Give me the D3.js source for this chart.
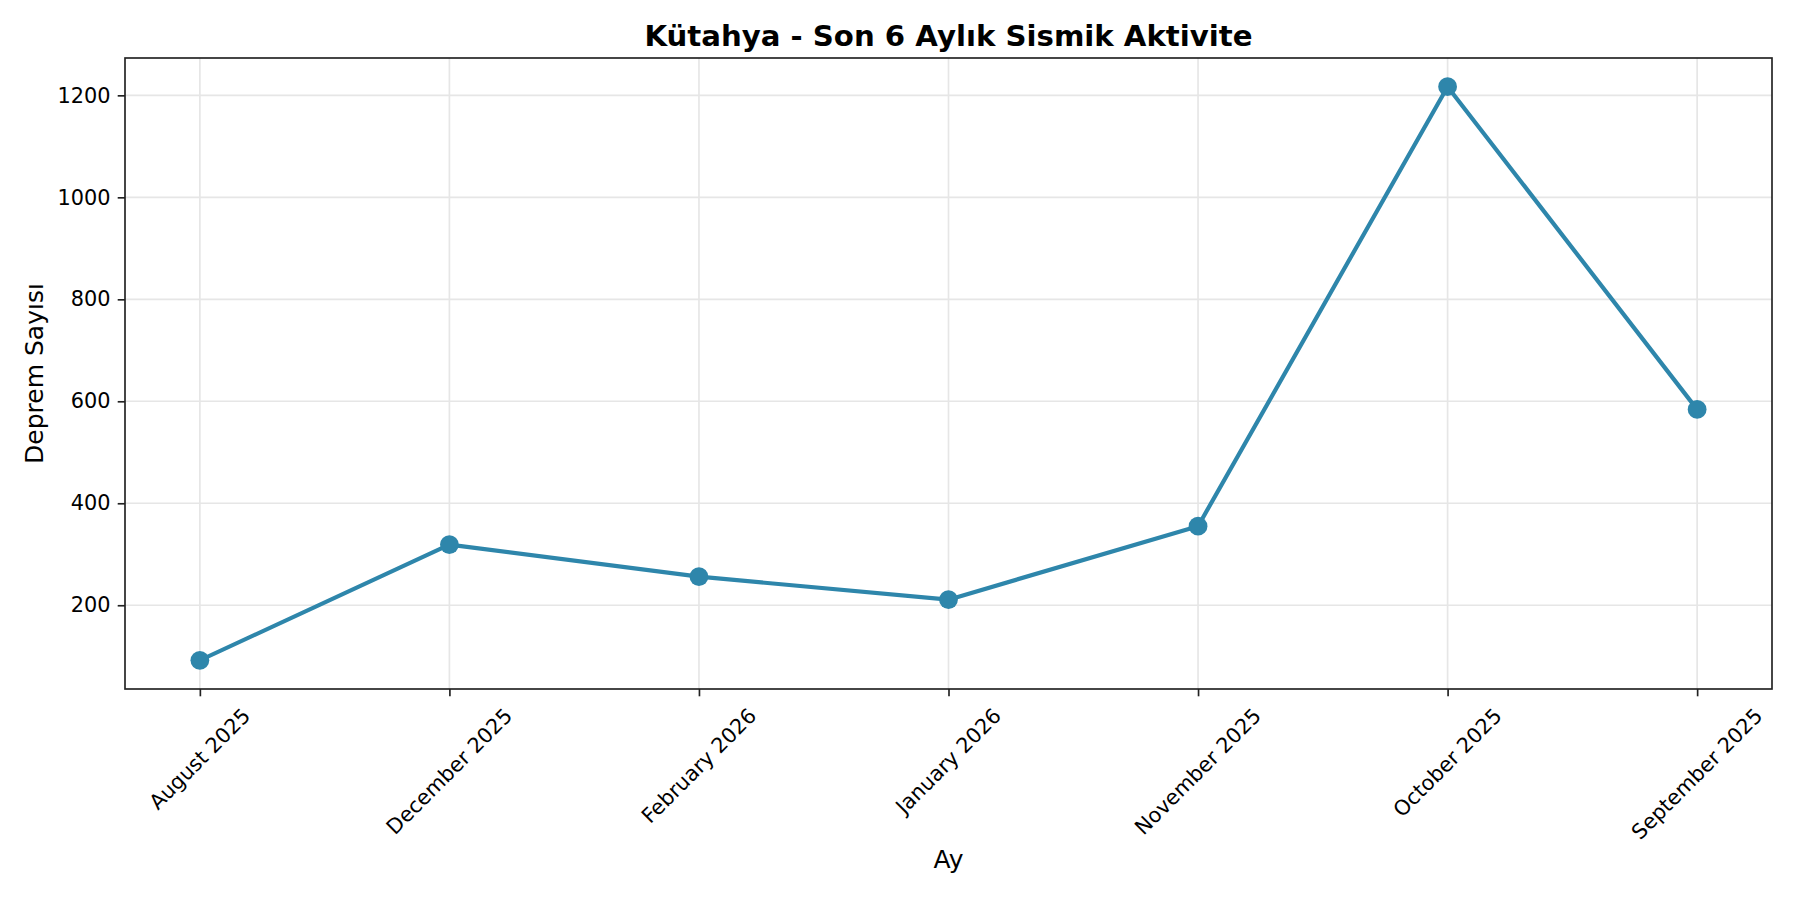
<!DOCTYPE html>
<html>
<head>
<meta charset="utf-8">
<script src="https://cdn.jsdelivr.net/npm/d3@7"></script>
<style>
  html, body { margin: 0; padding: 0; background: #fff; }
  svg { display: block; font-family: "DejaVu Sans", sans-serif; }
</style>
</head>
<body>
<svg id="chart" width="1800" height="900"></svg>
<script>
const months = ["August 2025", "December 2025", "February 2026", "January 2026", "November 2025", "October 2025", "September 2025"];
const counts = [92, 319, 256, 211, 355, 1217, 584];
const yTicks = [200, 400, 600, 800, 1000, 1200];
const titleText = "Kütahya - Son 6 Aylık Sismik Aktivite";
const xLabelText = "Ay";
const yLabelText = "Deprem Sayısı";

const W = 1800, H = 900;
const m = { left: 125, right: 1772, top: 58, bottom: 689 };
const color = "#2E86AB";
const axisColor = "#222";
const gridColor = "#e6e6e6";

const svg = d3.select("#chart");
svg.append("rect").attr("width", W).attr("height", H).attr("fill", "#fff");

const n = months.length;
const x = d3.scaleLinear().domain([-0.05 * (n - 1), (n - 1) * 1.05]).range([m.left, m.right]);
const yMin = d3.min(counts), yMax = d3.max(counts), pad = 0.05 * (yMax - yMin);
const y = d3.scaleLinear().domain([yMin - pad, yMax + pad]).range([m.bottom, m.top]);

// grid
const grid = svg.append("g");
grid.selectAll(".vg").data(d3.range(n)).join("line")
  .attr("x1", d => x(d)).attr("x2", d => x(d))
  .attr("y1", m.top).attr("y2", m.bottom)
  .attr("stroke", gridColor).attr("stroke-width", 1.67);
grid.selectAll(".hg").data(yTicks).join("line")
  .attr("x1", m.left).attr("x2", m.right)
  .attr("y1", d => y(d)).attr("y2", d => y(d))
  .attr("stroke", gridColor).attr("stroke-width", 1.67);

// y axis
const yAxis = d3.axisLeft(y).tickValues(yTicks).tickSize(7.3).tickPadding(7.3).tickFormat(d3.format("d"));
const gy = svg.append("g").attr("transform", `translate(${m.left},0)`).call(yAxis);
gy.select(".domain").remove();
gy.selectAll(".tick line").attr("stroke", axisColor).attr("stroke-width", 1.67);
gy.selectAll(".tick text").attr("font-size", 20.83).attr("fill", "#000").attr("font-family", "DejaVu Sans");

// x axis
const xAxis = d3.axisBottom(x).tickValues(d3.range(n)).tickSize(7.3).tickFormat("");
const gx = svg.append("g").attr("transform", `translate(0,${m.bottom})`).call(xAxis);
gx.select(".domain").remove();
gx.selectAll(".tick line").attr("stroke", axisColor).attr("stroke-width", 1.67);

const labTop = m.bottom + 7.3 + 7.3;
const fs = 20.83, lineH = fs * 1.164, s = Math.SQRT1_2;
const xl = svg.append("g");
months.forEach((mo, i) => {
  const t = xl.append("text").text(mo)
    .attr("font-size", fs).attr("fill", "#000")
    .attr("text-anchor", "middle").attr("dominant-baseline", "central");
  const w = t.node().getComputedTextLength();
  const hb = (w + lineH) * s;
  const cx = x(i), cy = labTop + hb / 2;
  t.attr("x", cx).attr("y", cy).attr("transform", `rotate(-45,${cx},${cy})`);
});

// spines
svg.append("rect")
  .attr("x", m.left).attr("y", m.top)
  .attr("width", m.right - m.left).attr("height", m.bottom - m.top)
  .attr("fill", "none").attr("stroke", axisColor).attr("stroke-width", 1.67);

// line
const line = d3.line().x((d, i) => x(i)).y(d => y(d));
svg.append("path").datum(counts)
  .attr("d", line).attr("fill", "none")
  .attr("stroke", color).attr("stroke-width", 4.2)
  .attr("stroke-linejoin", "round").attr("stroke-linecap", "square");

svg.append("g").selectAll("circle").data(counts).join("circle")
  .attr("cx", (d, i) => x(i)).attr("cy", d => y(d)).attr("r", 9.4)
  .attr("fill", color);

// title
svg.append("text").text(titleText)
  .attr("x", (m.left + m.right) / 2).attr("y", 45.5)
  .attr("text-anchor", "middle").attr("font-size", 29.2).attr("font-weight", "bold").attr("fill", "#000");

// axis labels
svg.append("text").text(xLabelText)
  .attr("x", (m.left + m.right) / 2).attr("y", 868)
  .attr("text-anchor", "middle").attr("font-size", 25).attr("fill", "#000");

svg.append("text").text(yLabelText)
  .attr("transform", `translate(34,${(m.top + m.bottom) / 2}) rotate(-90)`)
  .attr("text-anchor", "middle").attr("dominant-baseline", "central")
  .attr("font-size", 25).attr("fill", "#000");
</script>
</body>
</html>
